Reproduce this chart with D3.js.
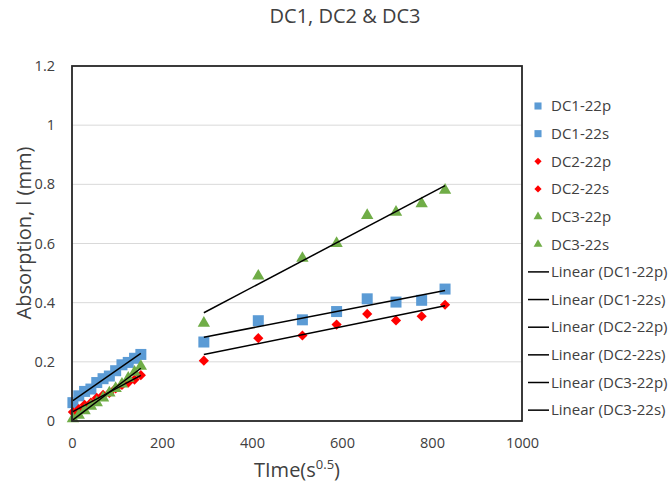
<!DOCTYPE html>
<html>
<head>
<meta charset="utf-8">
<script src="https://cdn.jsdelivr.net/npm/d3@7"></script>
<style>
  body { margin: 0; background: #fff; }
  text { font-family: "Open Sans", "Noto Sans", sans-serif; fill: #404040; }
</style>
</head>
<body>
<svg id="chart" width="670" height="482"></svg>
<script>
// ---- data ----
const pTimes = [2, 15, 28, 42, 55, 69, 83, 97, 111, 125, 139, 153];
const sTimes = [293, 414, 512, 588, 656, 720, 777, 829];

const dc1p = [0.062, 0.085, 0.100, 0.108, 0.130, 0.143, 0.152, 0.170, 0.190, 0.198, 0.212, 0.225];
const dc2p = [0.030, 0.040, 0.055, 0.062, 0.078, 0.088, 0.095, 0.110, 0.122, 0.130, 0.140, 0.155];
const dc3p = [0.008, 0.020, 0.035, 0.050, 0.062, 0.078, 0.095, 0.110, 0.125, 0.145, 0.165, 0.185];

const dc1s = [0.267, 0.339, 0.342, 0.370, 0.413, 0.402, 0.408, 0.446];
const dc2s = [0.204, 0.280, 0.289, 0.326, 0.362, 0.340, 0.354, 0.393];
const dc3s = [0.331, 0.490, 0.550, 0.600, 0.695, 0.706, 0.735, 0.780];

const seriesNames = ["DC1-22p", "DC1-22s", "DC2-22p", "DC2-22s", "DC3-22p", "DC3-22s"];
const xTicks = [0, 200, 400, 600, 800, 1000];
const yTicks = [0, 0.2, 0.4, 0.6, 0.8, 1, 1.2];

const titleText = "DC1, DC2 & DC3";
const xTitle = "TIme(s";
const xTitleSup = "0.5";
const yTitle = "Absorption, l (mm)";

(function () {
const series = [
  { name: seriesNames[0], x: pTimes, y: dc1p, shape: "square",  color: "#5B9BD5" },
  { name: seriesNames[1], x: sTimes, y: dc1s, shape: "square",  color: "#5B9BD5" },
  { name: seriesNames[2], x: pTimes, y: dc2p, shape: "diamond", color: "#FF0000" },
  { name: seriesNames[3], x: sTimes, y: dc2s, shape: "diamond", color: "#FF0000" },
  { name: seriesNames[4], x: pTimes, y: dc3p, shape: "triangle",color: "#70AD47" },
  { name: seriesNames[5], x: sTimes, y: dc3s, shape: "triangle",color: "#70AD47" }
];

const svg = d3.select("#chart");
const pl = 72, pr = 522, pt = 66, pb = 421;

const x = d3.scaleLinear().domain([0, 1000]).range([pl, pr]);
const y = d3.scaleLinear().domain([0, 1.2]).range([pb, pt]);

// gridlines
svg.append("g").selectAll("line").data(yTicks.filter(d => d > 0 && d < 1.2)).join("line")
  .attr("x1", pl).attr("x2", pr)
  .attr("y1", d => y(d)).attr("y2", d => y(d))
  .attr("stroke", "#d9d9d9").attr("stroke-width", 1);

// axes (labels only)
const xAxis = svg.append("g").attr("transform", `translate(0,${pb})`)
  .call(d3.axisBottom(x).tickValues(xTicks).tickSize(0).tickPadding(17).tickFormat(d3.format("d")));
xAxis.select(".domain").remove();
xAxis.selectAll("text").attr("font-size", 14.5).attr("font-family", "Open Sans").attr("fill", "#404040");

const yAxis = svg.append("g").attr("transform", `translate(${pl},0)`)
  .call(d3.axisLeft(y).tickValues(yTicks).tickSize(0).tickPadding(17).tickFormat(d => String(+d.toFixed(1))));
yAxis.select(".domain").remove();
yAxis.selectAll("text").attr("font-size", 14.5).attr("font-family", "Open Sans").attr("fill", "#404040");

// marker generators
const sym = {
  square: { gen: d3.symbol().type(d3.symbolSquare).size(121), rot: 0 },
  diamond: { gen: d3.symbol().type(d3.symbolSquare).size(52), rot: 45 },
  triangle: { gen: d3.symbol().type(d3.symbolTriangle).size(66), rot: 0 }
};
const symLegend = {
  square: { gen: d3.symbol().type(d3.symbolSquare).size(50), rot: 0 },
  diamond: { gen: d3.symbol().type(d3.symbolSquare).size(26), rot: 45 },
  triangle: { gen: d3.symbol().type(d3.symbolTriangle).size(34), rot: 0 }
};

// markers
series.forEach(s => {
  const m = sym[s.shape];
  svg.append("g").selectAll("path").data(s.x.map((xv, i) => [xv, s.y[i]])).join("path")
    .attr("d", m.gen)
    .attr("transform", d => `translate(${x(d[0])},${y(d[1])}) rotate(${m.rot})`)
    .attr("fill", s.color);
});

// linear trendlines (least squares)
function fit(xs, ys) {
  const mx = d3.mean(xs), my = d3.mean(ys);
  let num = 0, den = 0;
  xs.forEach((v, i) => { num += (v - mx) * (ys[i] - my); den += (v - mx) * (v - mx); });
  const b = num / den;
  return { b, a: my - b * mx };
}
const line = d3.line().x(d => x(d[0])).y(d => y(d[1]));
series.forEach(s => {
  const f = fit(s.x, s.y);
  const x0 = d3.min(s.x), x1 = d3.max(s.x);
  svg.append("path")
    .attr("d", line([[x0, f.a + f.b * x0], [x1, f.a + f.b * x1]]))
    .attr("stroke", "#000").attr("stroke-width", 1.5).attr("fill", "none");
});

// plot border
svg.append("rect").attr("x", pl).attr("y", pt)
  .attr("width", pr - pl).attr("height", pb - pt)
  .attr("fill", "none").attr("stroke", "#262626").attr("stroke-width", 1.8);

// title
svg.append("text").attr("x", 345).attr("y", 23).attr("text-anchor", "middle")
  .attr("font-size", 20).text(titleText);

// x title
const xt = svg.append("text").attr("x", 297).attr("y", 477).attr("text-anchor", "middle")
  .attr("font-size", 20);
xt.append("tspan").text(xTitle);
xt.append("tspan").attr("dy", -8).attr("font-size", 13).text(xTitleSup);
xt.append("tspan").attr("dy", 8).text(")");

// y title
svg.append("text").attr("transform", "translate(31,233) rotate(-90)")
  .attr("text-anchor", "middle").attr("font-size", 20).text(yTitle);

// legend
const legY0 = 106, legStep = 27.65;
const legendItems = series.map(s => ({ type: "marker", s, label: s.name }))
  .concat(series.map(s => ({ type: "line", s, label: "Linear (" + s.name + ")" })));
const lg = svg.append("g").selectAll("g").data(legendItems).join("g")
  .attr("transform", (d, i) => `translate(0,${legY0 + i * legStep})`);
lg.each(function(d) {
  const g = d3.select(this);
  if (d.type === "marker") {
    const m = symLegend[d.s.shape];
    g.append("path").attr("d", m.gen).attr("transform", `translate(538,0) rotate(${m.rot})`).attr("fill", d.s.color);
  } else {
    g.append("line").attr("x1", 528).attr("x2", 549).attr("y1", 0).attr("y2", 0)
      .attr("stroke", "#000").attr("stroke-width", 1.5);
  }
  g.append("text").attr("x", 551).attr("y", 0).attr("dy", "0.35em")
    .attr("font-size", 15).text(d.label);
});
})();
</script>
</body>
</html>
